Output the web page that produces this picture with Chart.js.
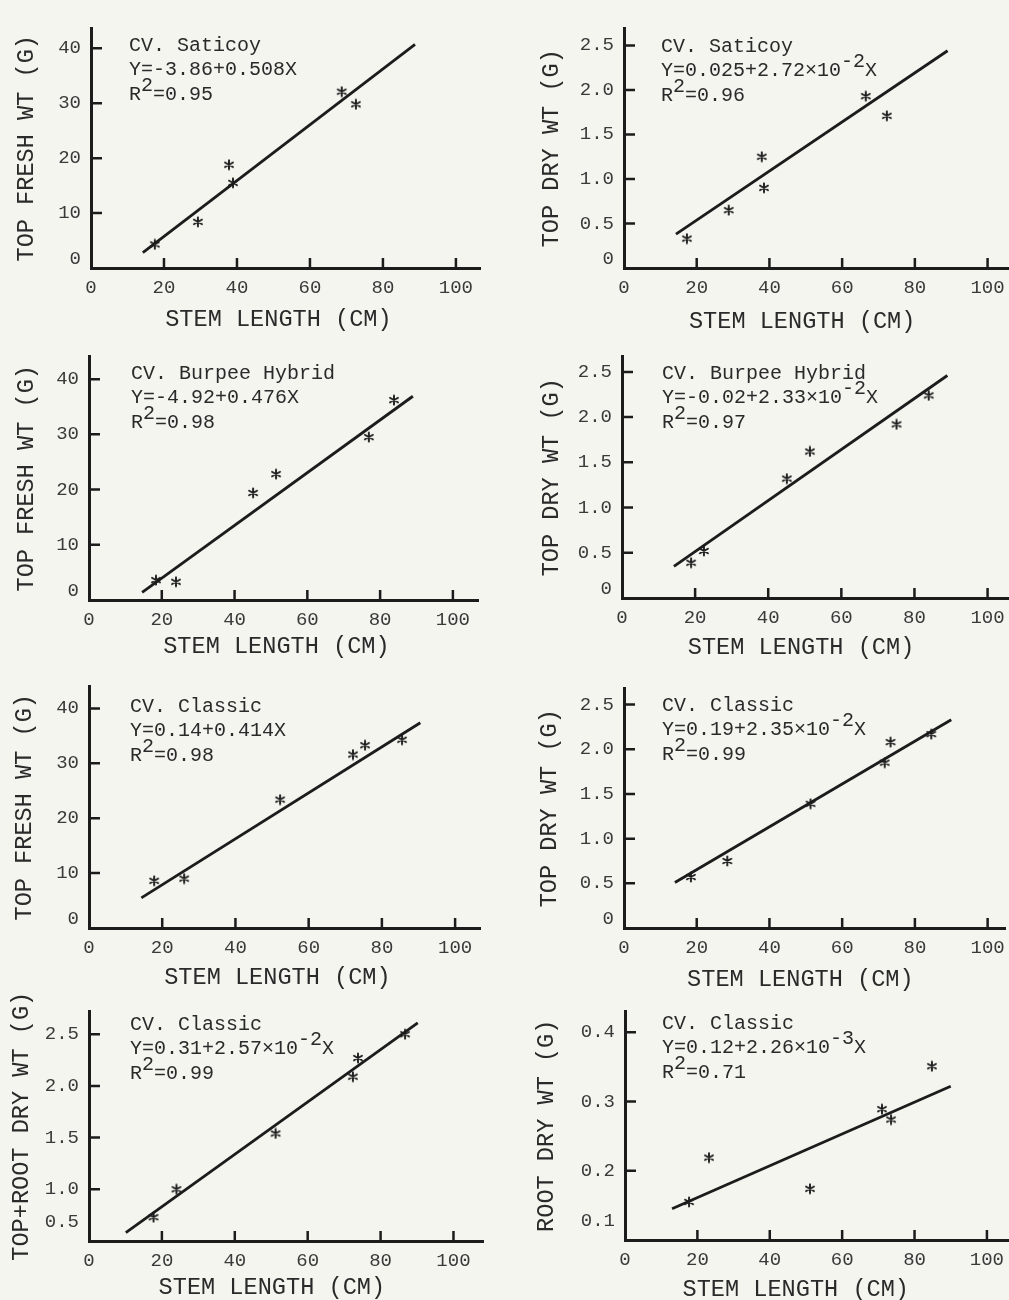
<!DOCTYPE html>
<html>
<head>
<meta charset="utf-8">
<script src="https://cdn.jsdelivr.net/npm/chart.js@4.4.1/dist/chart.umd.min.js"></script>
<style>
  html, body { margin: 0; padding: 0; background: #f5f5f0; overflow: hidden; }
  #page { position: relative; width: 1009px; height: 1300px; }
  #page canvas { position: absolute; }
</style>
</head>
<body>
<div id="page"></div>
<script>
// Valores: longitud del tallo (cm) contra peso (g).

// CV. Saticoy
var saticoyFreshX = [17.5, 29.3, 37.8, 38.9, 68.7, 72.6];
var saticoyFreshY = [4.3, 8.4, 18.8, 15.5, 32.1, 29.8];
var saticoyFreshFitX = [14.2, 88.8];
var saticoyFreshFitY = [2.8, 40.7];

var saticoyDryX = [17.3, 28.8, 37.9, 38.5, 66.5, 72.3];
var saticoyDryY = [0.33, 0.65, 1.25, 0.90, 1.93, 1.71];
var saticoyDryFitX = [14.3, 89.0];
var saticoyDryFitY = [0.38, 2.44];

// CV. Burpee Hybrid
var burpeeFreshX = [18.4, 23.9, 45.1, 51.4, 76.9, 83.8];
var burpeeFreshY = [3.6, 3.3, 19.4, 22.8, 29.5, 36.2];
var burpeeFreshFitX = [14.6, 89.0];
var burpeeFreshFitY = [1.4, 36.9];

var burpeeDryX = [18.9, 22.4, 45.1, 51.4, 75.1, 83.9];
var burpeeDryY = [0.39, 0.52, 1.32, 1.62, 1.92, 2.24];
var burpeeDryFitX = [14.2, 89.0];
var burpeeDryFitY = [0.35, 2.46];

// CV. Classic
var classicFreshX = [17.8, 26.0, 52.2, 72.1, 75.4, 85.5];
var classicFreshY = [8.6, 9.0, 23.4, 31.6, 33.3, 34.3];
var classicFreshFitX = [14.3, 90.5];
var classicFreshFitY = [5.5, 37.4];

var classicDryX = [18.4, 28.4, 51.3, 71.7, 73.3, 84.5];
var classicDryY = [0.57, 0.75, 1.39, 1.85, 2.08, 2.17];
var classicDryFitX = [14.0, 90.0];
var classicDryFitY = [0.51, 2.33];

var classicTotalX = [17.7, 24.0, 51.2, 72.4, 73.8, 86.7];
var classicTotalY = [0.73, 1.00, 1.54, 2.09, 2.27, 2.50];
var classicTotalFitX = [10.1, 90.2];
var classicTotalFitY = [0.58, 2.61];

var classicRootX = [17.7, 23.2, 51.1, 71.0, 73.5, 84.8];
var classicRootY = [0.155, 0.219, 0.174, 0.289, 0.274, 0.351];
var classicRootFitX = [13.0, 90.0];
var classicRootFitY = [0.145, 0.322];

// Marcas de los ejes
var stemTicks = [0, 20, 40, 60, 80, 100];
var stemTickLabels = ['0', '20', '40', '60', '80', '100'];
var freshTicks = [0, 10, 20, 30, 40];
var freshTickLabels = ['0', '10', '20', '30', '40'];
var dryTicks = [0, 0.5, 1.0, 1.5, 2.0, 2.5];
var dryTickLabels = ['0', '0.5', '1.0', '1.5', '2.0', '2.5'];
var totalTicks = [0.5, 1.0, 1.5, 2.0, 2.5];
var totalTickLabels = ['0.5', '1.0', '1.5', '2.0', '2.5'];
var rootTicks = [0.1, 0.2, 0.3, 0.4];
var rootTickLabels = ['0.1', '0.2', '0.3', '0.4'];

// Textos de cada panel (^{..} = superíndice)
var saticoyFreshNote = ['CV. Saticoy', 'Y=-3.86+0.508X', 'R^{2}=0.95'];
var saticoyDryNote = ['CV. Saticoy', 'Y=0.025+2.72×10^{-2}X', 'R^{2}=0.96'];
var burpeeFreshNote = ['CV. Burpee Hybrid', 'Y=-4.92+0.476X', 'R^{2}=0.98'];
var burpeeDryNote = ['CV. Burpee Hybrid', 'Y=-0.02+2.33×10^{-2}X', 'R^{2}=0.97'];
var classicFreshNote = ['CV. Classic', 'Y=0.14+0.414X', 'R^{2}=0.98'];
var classicDryNote = ['CV. Classic', 'Y=0.19+2.35×10^{-2}X', 'R^{2}=0.99'];
var classicTotalNote = ['CV. Classic', 'Y=0.31+2.57×10^{-2}X', 'R^{2}=0.99'];
var classicRootNote = ['CV. Classic', 'Y=0.12+2.26×10^{-3}X', 'R^{2}=0.71'];

var xTitle = 'STEM LENGTH (CM)';

var INK = '#1c1c1c';
var TEXT = '#2a2a2a';
var FONT = '"Liberation Mono", "DejaVu Sans Mono", monospace';
var Y_AXIS_W = 90;
var X_AXIS_H = 70;
var PAD = 6;

// x0/y0 = esquina de los ejes en la página, xRight/yTop = extremos de los ejes
var panels = [
    { x: saticoyFreshX, y: saticoyFreshY, fx: saticoyFreshFitX, fy: saticoyFreshFitY, note: saticoyFreshNote,
      yTicks: freshTicks, yLabels: freshTickLabels, yTitle: 'TOP FRESH WT (G)',
      x0: 91, xRight: 480, yTop: 15, y0: 268, xMax: 106.6, yMin: 0, yMax: 43.6,
      yTitleX: 27, xTitleY: 320, xTitleShift: 1, noteLeft: 38, noteTop: 17, lift: 1 },
    { x: saticoyDryX, y: saticoyDryY, fx: saticoyDryFitX, fy: saticoyDryFitY, note: saticoyDryNote,
      yTicks: dryTicks, yLabels: dryTickLabels, yTitle: 'TOP DRY WT (G)',
      x0: 624, xRight: 1009, yTop: 15, y0: 268, xMax: 105.8, yMin: 0, yMax: 2.69,
      yTitleX: 552, xTitleY: 322, xTitleShift: 2, noteLeft: 37, noteTop: 18, lift: 1 },
    { x: burpeeFreshX, y: burpeeFreshY, fx: burpeeFreshFitX, fy: burpeeFreshFitY, note: burpeeFreshNote,
      yTicks: freshTicks, yLabels: freshTickLabels, yTitle: 'TOP FRESH WT (G)',
      x0: 89, xRight: 478, yTop: 343, y0: 600, xMax: 106.9, yMin: 0, yMax: 44.1,
      yTitleX: 27, xTitleY: 647, xTitleShift: 1, noteLeft: 42, noteTop: 17, lift: 1 },
    { x: burpeeDryX, y: burpeeDryY, fx: burpeeDryFitX, fy: burpeeDryFitY, note: burpeeDryNote,
      yTicks: dryTicks, yLabels: dryTickLabels, yTitle: 'TOP DRY WT (G)',
      x0: 622, xRight: 1009, yTop: 343, y0: 598, xMax: 105.7, yMin: 0, yMax: 2.67,
      yTitleX: 552, xTitleY: 648, xTitleShift: 2, noteLeft: 40, noteTop: 17, lift: 1 },
    { x: classicFreshX, y: classicFreshY, fx: classicFreshFitX, fy: classicFreshFitY, note: classicFreshNote,
      yTicks: freshTicks, yLabels: freshTickLabels, yTitle: 'TOP FRESH WT (G)',
      x0: 89, xRight: 480, yTop: 673, y0: 928, xMax: 106.8, yMin: 0, yMax: 44.0,
      yTitleX: 25, xTitleY: 978, xTitleShift: 1, noteLeft: 41, noteTop: 20, lift: 1 },
    { x: classicDryX, y: classicDryY, fx: classicDryFitX, fy: classicDryFitY, note: classicDryNote,
      yTicks: dryTicks, yLabels: dryTickLabels, yTitle: 'TOP DRY WT (G)',
      x0: 624, xRight: 1009, yTop: 675, y0: 928, xMax: 104.8, yMin: 0, yMax: 2.68,
      yTitleX: 550, xTitleY: 980, xTitleShift: 2, noteLeft: 38, noteTop: 17, lift: 1 },
    { x: classicTotalX, y: classicTotalY, fx: classicTotalFitX, fy: classicTotalFitY, note: classicTotalNote,
      yTicks: totalTicks, yLabels: totalTickLabels, yTitle: 'TOP+ROOT DRY WT (G)',
      x0: 89, xRight: 483, yTop: 998, y0: 1241, xMax: 108.1, yMin: 0.5, yMax: 2.72,
      yTitleX: 22, xTitleY: 1288, xTitleShift: 2, noteLeft: 41, noteTop: 13, lift: 2 },
    { x: classicRootX, y: classicRootY, fx: classicRootFitX, fy: classicRootFitY, note: classicRootNote,
      yTicks: rootTicks, yLabels: rootTickLabels, yTitle: 'ROOT DRY WT (G)',
      x0: 625, xRight: 1009, yTop: 998, y0: 1240, xMax: 106.1, yMin: 0.1, yMax: 0.43,
      yTitleX: 547, xTitleY: 1290, xTitleShift: 3, noteLeft: 37, noteTop: 12, lift: 2 }
];

// Asterisco de máquina de escribir para los puntos
function makeAsterisk() {
    var c = document.createElement('canvas');
    c.width = 12;
    c.height = 12;
    var g = c.getContext('2d');
    g.strokeStyle = INK;
    g.lineWidth = 1.9;
    g.lineCap = 'round';
    g.beginPath();
    [90, 30, -30].forEach(function (a) {
        var dx = 4.6 * Math.cos(a * Math.PI / 180);
        var dy = 4.6 * Math.sin(a * Math.PI / 180);
        g.moveTo(6 - dx, 6 - dy);
        g.lineTo(6 + dx, 6 + dy);
    });
    g.stroke();
    return c;
}
var asterisk = makeAsterisk();

// Marcas de los ejes hacia adentro
var inwardTicks = {
    id: 'inwardTicks',
    afterDraw: function (chart) {
        var ctx = chart.ctx;
        var area = chart.chartArea;
        var xs = chart.scales.x, ys = chart.scales.y;
        ctx.save();
        ctx.strokeStyle = INK;
        ctx.lineWidth = 2.5;
        ctx.beginPath();
        xs.ticks.forEach(function (t) {
            if (t.value === xs.min) return;
            var px = xs.getPixelForValue(t.value);
            ctx.moveTo(px, area.bottom);
            ctx.lineTo(px, area.bottom - 10);
        });
        ys.ticks.forEach(function (t) {
            if (t.value === ys.min) return;
            var py = ys.getPixelForValue(t.value);
            ctx.moveTo(area.left, py);
            ctx.lineTo(area.left + 11, py);
        });
        ctx.stroke();
        ctx.restore();
    }
};

// Texto de cultivar, ecuación y R²
var notes = {
    id: 'notes',
    afterDraw: function (chart, args, opts) {
        var ctx = chart.ctx;
        var area = chart.chartArea;
        ctx.save();
        ctx.font = '20px ' + FONT;
        ctx.fillStyle = TEXT;
        ctx.textBaseline = 'middle';
        opts.lines.forEach(function (line, i) {
            var x = area.left + opts.left;
            var y = area.top + opts.top + i * 24.5;
            line.split(/(\^\{[^}]*\})/).forEach(function (part) {
                if (!part) return;
                var sup = part.indexOf('^{') === 0;
                var txt = sup ? part.slice(2, -1) : part;
                ctx.fillText(txt, x, sup ? y - 9 : y);
                x += ctx.measureText(txt).width;
            });
        });
        ctx.restore();
    }
};

function crearPanel(p) {
    var left = p.x0 - Y_AXIS_W;
    var top = p.yTop - PAD;
    var width = p.xRight - p.x0 + Y_AXIS_W + PAD;
    var height = p.y0 - p.yTop + PAD + X_AXIS_H;

    var canvas = document.createElement('canvas');
    canvas.width = width;
    canvas.height = height;
    canvas.style.left = left + 'px';
    canvas.style.top = top + 'px';
    document.getElementById('page').appendChild(canvas);

    var titleFont = { family: FONT, size: 23.6, lineHeight: 1.2 };
    var tickFont = { family: FONT, size: 19, lineHeight: 1.0 };
    var half = titleFont.size * titleFont.lineHeight / 2;

    return new Chart(canvas.getContext('2d'), {
        type: 'scatter',
        data: {
            datasets: [
                {
                    data: p.x.map(function (v, i) { return { x: v, y: p.y[i] }; }),
                    pointStyle: asterisk,
                    pointRadius: 4
                },
                {
                    data: p.fx.map(function (v, i) { return { x: v, y: p.fy[i] }; }),
                    showLine: true,
                    borderColor: INK,
                    borderWidth: 2.8,
                    pointRadius: 0
                }
            ]
        },
        options: {
            responsive: false,
            animation: false,
            events: [],
            layout: { padding: { top: PAD, right: PAD, left: 0, bottom: 0 } },
            plugins: {
                legend: { display: false },
                tooltip: { enabled: false },
                notes: { lines: p.note, left: p.noteLeft, top: p.noteTop }
            },
            scales: {
                x: {
                    type: 'linear',
                    min: 0,
                    max: p.xMax,
                    afterBuildTicks: function (s) {
                        s.ticks = stemTicks.map(function (v) { return { value: v }; });
                    },
                    afterFit: function (s) { s.height = X_AXIS_H; },
                    grid: { drawOnChartArea: false, drawTicks: false },
                    border: { display: true, width: 3, color: INK },
                    ticks: {
                        autoSkip: false,
                        maxRotation: 0,
                        padding: 10,
                        color: '#3a3a3a',
                        font: tickFont,
                        callback: function (v, i) { return stemTickLabels[i]; }
                    },
                    title: {
                        display: true,
                        text: xTitle + ' '.repeat(p.xTitleShift),
                        color: TEXT,
                        font: titleFont,
                        padding: { top: 0, bottom: (p.y0 + X_AXIS_H) - p.xTitleY - half }
                    }
                },
                y: {
                    type: 'linear',
                    min: p.yMin,
                    max: p.yMax,
                    afterBuildTicks: function (s) {
                        s.ticks = p.yTicks.map(function (v) { return { value: v }; });
                    },
                    afterFit: function (s) { s.width = Y_AXIS_W; },
                    grid: { drawOnChartArea: false, drawTicks: false },
                    border: { display: true, width: 3, color: INK },
                    ticks: {
                        autoSkip: false,
                        padding: 10,
                        color: '#3a3a3a',
                        font: tickFont,
                        // la etiqueta inferior va un poco arriba del eje, como en el original
                        callback: function (v, i) {
                            if (i === 0) {
                                var lbl = [p.yLabels[0]];
                                for (var k = 0; k < p.lift; k++) lbl.push('');
                                return lbl;
                            }
                            return p.yLabels[i];
                        }
                    },
                    title: {
                        display: true,
                        text: p.yTitle,
                        color: TEXT,
                        font: titleFont,
                        padding: { top: p.yTitleX - left - half, bottom: 0 }
                    }
                }
            }
        },
        plugins: [inwardTicks, notes]
    });
}

panels.forEach(crearPanel);
</script>
</body>
</html>
